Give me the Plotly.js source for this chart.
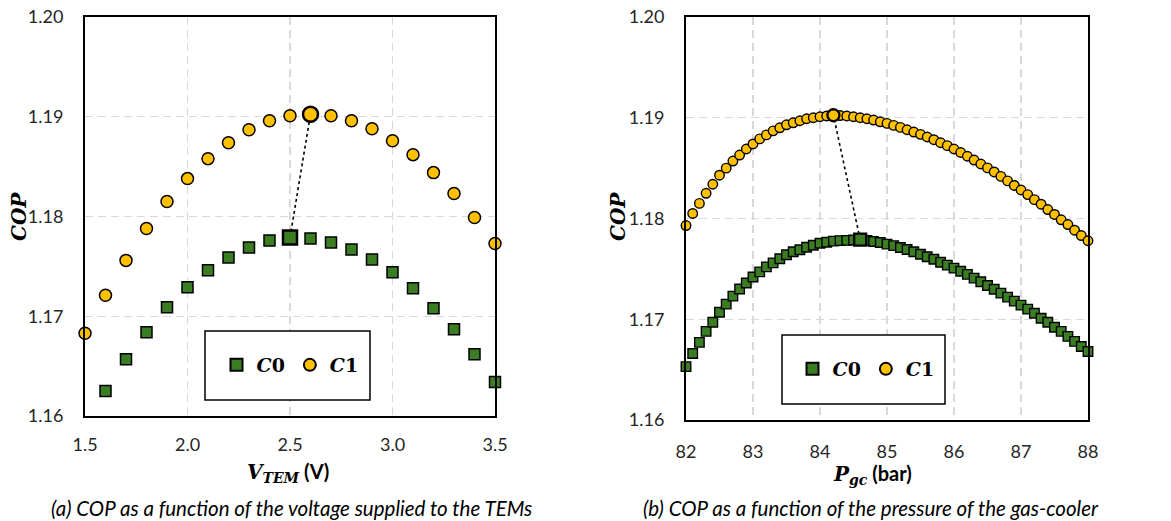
<!DOCTYPE html>
<html>
<head>
<meta charset="utf-8">
<script src="https://cdn.plot.ly/plotly-3.0.1.min.js"></script>
<style>html,body{margin:0;padding:0;background:#fff;} #chart{width:1171px;height:521px;}</style>
</head>
<body>
<div id="chart"></div>
<script>
// ---- data (a): COP vs voltage supplied to the TEMs ----
const vtem = [1.5,1.6,1.7,1.8,1.9,2.0,2.1,2.2,2.3,2.4,2.5,2.6,2.7,2.8,2.9,3.0,3.1,3.2,3.3,3.4,3.5];
const c0Left = [null,1.1625,1.1657,1.1684,1.1709,1.1729,1.1746,1.1759,1.1769,1.1776,1.1779,1.1778,1.1774,1.1767,1.1757,1.1744,1.1728,1.1708,1.1687,1.1662,1.1634];
const c1Left = [1.1683,1.1721,1.1756,1.1788,1.1815,1.1838,1.1858,1.1874,1.1887,1.1896,1.1901,1.19025,1.1901,1.1896,1.1888,1.1876,1.1862,1.1844,1.1823,1.1799,1.1773];

// ---- data (b): COP vs gas-cooler pressure ----
const pgc = [82.0,82.1,82.2,82.3,82.4,82.5,82.6,82.7,82.8,82.9,
             83.0,83.1,83.2,83.3,83.4,83.5,83.6,83.7,83.8,83.9,
             84.0,84.1,84.2,84.3,84.4,84.5,84.6,84.7,84.8,84.9,
             85.0,85.1,85.2,85.3,85.4,85.5,85.6,85.7,85.8,85.9,
             86.0,86.1,86.2,86.3,86.4,86.5,86.6,86.7,86.8,86.9,
             87.0,87.1,87.2,87.3,87.4,87.5,87.6,87.7,87.8,87.9,88.0];
const c0Right = [1.1653,1.1666,1.1677,1.1688,1.1697,1.1707,1.1715,1.1723,1.1730,1.1736,
                 1.1742,1.1747,1.1752,1.1756,1.1760,1.1764,1.1767,1.1769,1.17715,1.17735,
                 1.17755,1.17765,1.17775,1.1778,1.17783,1.17787,1.1779,1.17782,1.17772,1.17762,
                 1.17746,1.17731,1.17712,1.17692,1.1767,1.17645,1.17621,1.17595,1.17566,1.17537,
                 1.17507,1.17477,1.17445,1.17408,1.17372,1.17335,1.17298,1.17259,1.1722,1.1718,
                 1.1714,1.1710,1.1706,1.1701,1.1697,1.1692,1.1688,1.1683,1.1678,1.1673,1.1668];
const c1Right = [1.1793,1.1805,1.1815,1.1825,1.1834,1.1843,1.1850,1.1857,1.1863,1.1869,
                 1.1874,1.1879,1.1883,1.1887,1.1890,1.1893,1.1895,1.1897,1.1899,1.1900,
                 1.1901,1.19018,1.19025,1.19022,1.19018,1.1901,1.1900,1.1899,1.18977,1.1896,
                 1.18944,1.18924,1.18904,1.18881,1.18858,1.18835,1.18809,1.18782,1.18752,1.18723,
                 1.1869,1.18655,1.18618,1.1858,1.18541,1.18502,1.18462,1.18418,1.18373,1.18328,
                 1.18283,1.18237,1.18187,1.18142,1.18089,1.1804,1.17987,1.1794,1.17884,1.17831,1.17779];

const seriesNames = ['<b><i>C</i>0</b>', '<b><i>C</i>1</b>'];
const leftTicks = [1.5,2.0,2.5,3.0,3.5];
const rightTicks = [82,83,84,85,86,87,88];
const yTicks = [1.16,1.17,1.18,1.19,1.20];

const GREEN = '#3B7D23', YELLOW = '#FFC000';

function argmax(a){let b=-1,v=-Infinity;a.forEach((x,i)=>{if(x!==null&&x>v){v=x;b=i;}});return b;}

const iL0 = argmax(c0Left), iL1 = argmax(c1Left), iR0 = argmax(c0Right), iR1 = argmax(c1Right);

const traces = [
  // dotted links between optima
  {x:[vtem[iL0], vtem[iL1]], y:[c0Left[iL0], c1Left[iL1]], xaxis:'x', yaxis:'y', mode:'lines',
   line:{color:'#000', width:1.6, dash:'dot'}, showlegend:false, hoverinfo:'skip', cliponaxis:false},
  {x:[pgc[iR0], pgc[iR1]], y:[c0Right[iR0], c1Right[iR1]], xaxis:'x2', yaxis:'y2', mode:'lines',
   line:{color:'#000', width:1.6, dash:'dot'}, showlegend:false, hoverinfo:'skip', cliponaxis:false},
  // left
  {x:vtem, y:c0Left, xaxis:'x', yaxis:'y', mode:'markers', name:seriesNames[0], legend:'legend',
   marker:{symbol:'square', size:11, color:GREEN, line:{color:'#000', width:1.5}}, cliponaxis:false},
  {x:vtem, y:c1Left, xaxis:'x', yaxis:'y', mode:'markers', name:seriesNames[1], legend:'legend',
   marker:{symbol:'circle', size:12, color:YELLOW, line:{color:'#000', width:1.5}}, cliponaxis:false},
  // right
  {x:pgc, y:c0Right, xaxis:'x2', yaxis:'y2', mode:'markers', name:seriesNames[0], legend:'legend2',
   marker:{symbol:'square', size:9.5, color:GREEN, line:{color:'#000', width:1.4}}, cliponaxis:false},
  {x:pgc, y:c1Right, xaxis:'x2', yaxis:'y2', mode:'markers', name:seriesNames[1], legend:'legend2',
   marker:{symbol:'circle', size:9.5, color:YELLOW, line:{color:'#000', width:1.4}}, cliponaxis:false},
  // highlighted optima
  {x:[vtem[iL0]], y:[c0Left[iL0]], xaxis:'x', yaxis:'y', mode:'markers', showlegend:false,
   marker:{symbol:'square', size:14, color:GREEN, line:{color:'#000', width:2.5}}, cliponaxis:false},
  {x:[vtem[iL1]], y:[c1Left[iL1]], xaxis:'x', yaxis:'y', mode:'markers', showlegend:false,
   marker:{symbol:'circle', size:15, color:YELLOW, line:{color:'#000', width:2.5}}, cliponaxis:false},
  {x:[pgc[iR0]], y:[c0Right[iR0]], xaxis:'x2', yaxis:'y2', mode:'markers', showlegend:false,
   marker:{symbol:'square', size:12, color:GREEN, line:{color:'#000', width:2.3}}, cliponaxis:false},
  {x:[pgc[iR1]], y:[c1Right[iR1]], xaxis:'x2', yaxis:'y2', mode:'markers', showlegend:false,
   marker:{symbol:'circle', size:12, color:YELLOW, line:{color:'#000', width:2.3}}, cliponaxis:false}
];

const W = 1171, H = 521;
const px = v => v / W, py = v => 1 - v / H;

const tickFont = {family:'Lato, "Open Sans", sans-serif', size:18, color:'#262626'};
const commonAxis = {
  showline:true, mirror:true, linecolor:'#000', linewidth:2,
  showgrid:true, gridcolor:'#d9d9d9', gridwidth:1.4, griddash:'8px,5px',
  zeroline:false, ticks:'', tickfont:tickFont, fixedrange:true
};

const legendCommon = {orientation:'h', xanchor:'center', yanchor:'middle', bgcolor:'rgba(0,0,0,0)',
  borderwidth:0, font:{family:'"DejaVu Serif", serif', size:19, color:'#000'}, itemsizing:'constant', itemwidth:30};

const serifTitle = {family:'"DejaVu Serif", "Liberation Serif", serif', size:20, color:'#000'};
const titleFont = {family:'Lato, sans-serif', size:20, color:'#000'};
const capFont = {family:'Lato, sans-serif', size:20.5, color:'#000'};

const layout = {
  width:W, height:H, margin:{l:0, r:0, t:0, b:0}, paper_bgcolor:'#fff', plot_bgcolor:'#fff',
  xaxis: Object.assign({}, commonAxis, {domain:[px(85), px(495)], range:[1.5,3.5], tickvals:leftTicks,
    tickformat:'.1f', anchor:'y', ticklabelstandoff:11}),
  yaxis: Object.assign({}, commonAxis, {domain:[py(416), py(17)], range:[1.16,1.20], tickvals:yTicks,
    tickformat:'.2f', anchor:'x', ticklabelstandoff:16}),
  xaxis2: Object.assign({}, commonAxis, {domain:[px(686), px(1088)], range:[82,88], tickvals:rightTicks,
    tickformat:'d', anchor:'y2', ticklabelstandoff:14}),
  yaxis2: Object.assign({}, commonAxis, {domain:[py(420), py(17)], range:[1.16,1.20], tickvals:yTicks,
    tickformat:'.2f', anchor:'x2', ticklabelstandoff:16}),
  legend: Object.assign({}, legendCommon, {x:px(290), y:py(365)}),
  legend2: Object.assign({}, legendCommon, {x:px(866), y:py(369)}),
  shapes: [
    {type:'rect', xref:'paper', yref:'paper', x0:px(205), x1:px(370), y0:py(400), y1:py(331),
     line:{color:'#000', width:1.5}, fillcolor:'#fff', layer:'above'},
    {type:'rect', xref:'paper', yref:'paper', x0:px(782), x1:px(945), y0:py(404), y1:py(335),
     line:{color:'#000', width:1.5}, fillcolor:'#fff', layer:'above'}
  ],
  annotations: [
    {xref:'paper', yref:'paper', x:px(19), y:py(217), text:'<b><i>COP</i></b>', textangle:-90,
     showarrow:false, font:serifTitle, xanchor:'center', yanchor:'middle'},
    {xref:'paper', yref:'paper', x:px(618), y:py(217), text:'<b><i>COP</i></b>', textangle:-90,
     showarrow:false, font:serifTitle, xanchor:'center', yanchor:'middle'},
    {xref:'paper', yref:'paper', x:px(288), y:py(472), showarrow:false, xanchor:'center', yanchor:'middle',
     text:'<span style="font-family:\'DejaVu Serif\'"><b><i>V</i></b><sub><b><i>TEM</i></b></sub></span><b> (V)</b>',
     font:titleFont},
    {xref:'paper', yref:'paper', x:px(872), y:py(474), showarrow:false, xanchor:'center', yanchor:'middle',
     text:'<span style="font-family:\'DejaVu Serif\'"><b><i>P</i></b><sub><b><i>gc</i></b></sub></span><b> (bar)</b>',
     font:titleFont},
    {xref:'paper', yref:'paper', x:px(291), y:py(508), showarrow:false, xanchor:'center', yanchor:'middle',
     text:'<i>(a) COP as a function of the voltage supplied to the TEMs</i>', font:capFont},
    {xref:'paper', yref:'paper', x:px(871), y:py(508), showarrow:false, xanchor:'center', yanchor:'middle',
     text:'<i>(b) COP as a function of the pressure of the gas-cooler</i>', font:capFont}
  ],
  showlegend:true
};

Plotly.newPlot('chart', traces, layout, {displayModeBar:false, staticPlot:true});
</script>
</body>
</html>
